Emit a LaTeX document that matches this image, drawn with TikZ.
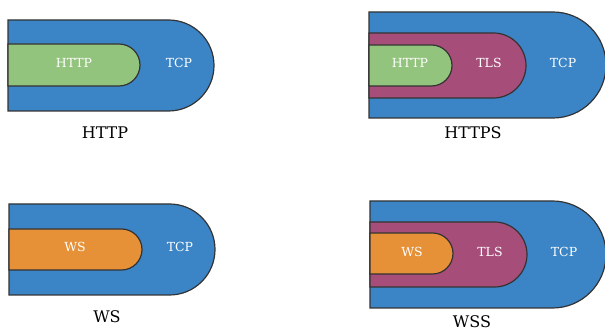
\documentclass[tikz,border=0pt]{standalone}
\usepackage{fontspec}
\setmainfont{DejaVu Serif}
\usetikzlibrary{shapes.misc}
\definecolor{tcpblue}{HTML}{3B84C6}
\definecolor{httpgreen}{HTML}{93C47D}
\definecolor{tlsmag}{HTML}{A64D79}
\definecolor{wsorange}{HTML}{E69138}
\definecolor{edgegray}{HTML}{333333}
\tikzset{
  layer/.style={rounded rectangle, rounded rectangle west arc=none, draw=edgegray,
    line width=1.2pt, inner sep=0pt, outer sep=0pt},
  inlabel/.style={text=white, font=\fontsize{12.5}{15}\selectfont, inner sep=0pt},
  caption/.style={text=black, font=\fontsize{16}{19}\selectfont, inner sep=0pt}
}
\begin{document}
\begin{tikzpicture}[x=1pt,y=1pt]
\useasboundingbox (0,0) rectangle (605,331);
% Panel 1: HTTP
\node[layer, fill=tcpblue, minimum width=206pt, minimum height=91pt] (tcp1) at (111,265.5) {};
\node[layer, fill=httpgreen, minimum width=132pt, minimum height=42pt] (http1) at (74,266) {};
\node[inlabel] (t_http1) at (74,268) {HTTP};
\node[inlabel] (t_tcp1) at (179,268) {TCP};
\node[caption] (cap1) at (105,198) {HTTP};
% Panel 2: HTTPS
\node[layer, fill=tcpblue, minimum width=237pt, minimum height=106pt] (tcp2) at (487.5,266) {};
\node[layer, fill=tlsmag, minimum width=157pt, minimum height=65pt] (tls2) at (447.5,265.5) {};
\node[layer, fill=httpgreen, minimum width=83pt, minimum height=41pt] (http2) at (410.5,265.5) {};
\node[inlabel] (t_http2) at (410,268) {HTTP};
\node[inlabel] (t_tls2) at (489,268) {TLS};
\node[inlabel] (t_tcp2) at (563,268) {TCP};
\node[caption] (cap2) at (473,198) {HTTPS};
% Panel 3: WS
\node[layer, fill=tcpblue, minimum width=206pt, minimum height=91pt] (tcp3) at (112,81.5) {};
\node[layer, fill=wsorange, minimum width=133pt, minimum height=41pt] (ws3) at (75.5,81.5) {};
\node[inlabel] (t_ws3) at (75,84) {WS};
\node[inlabel] (t_tcp3) at (180,84) {TCP};
\node[caption] (cap3) at (107,14) {WS};
% Panel 4: WSS
\node[layer, fill=tcpblue, minimum width=236pt, minimum height=107pt] (tcp4) at (488,76.5) {};
\node[layer, fill=tlsmag, minimum width=157pt, minimum height=65pt] (tls4) at (448.5,76.5) {};
\node[layer, fill=wsorange, minimum width=83pt, minimum height=41pt] (ws4) at (411.5,77.5) {};
\node[inlabel] (t_ws4) at (412,79) {WS};
\node[inlabel] (t_tls4) at (490,79) {TLS};
\node[inlabel] (t_tcp4) at (564,79) {TCP};
\node[caption] (cap4) at (472,9) {WSS};
\end{tikzpicture}
\end{document}
